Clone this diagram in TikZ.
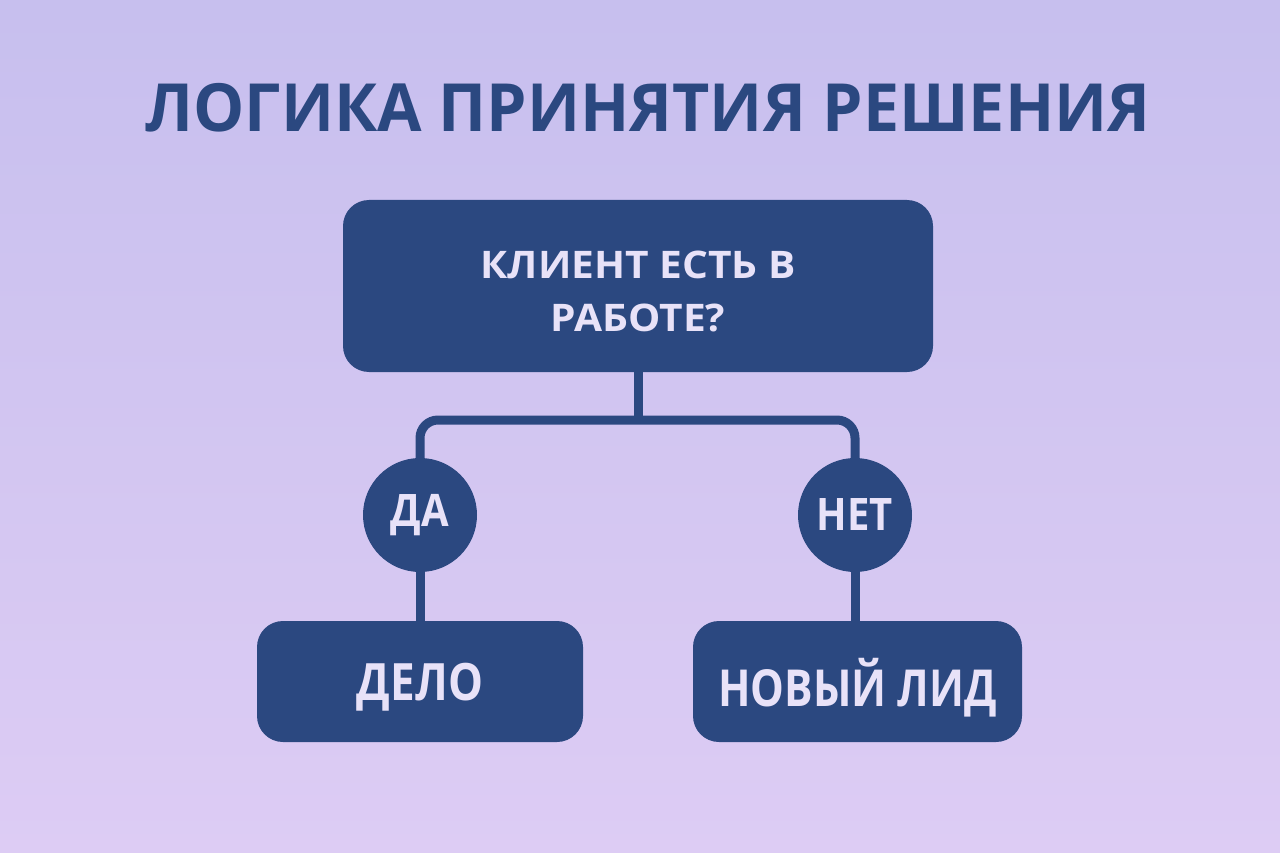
\documentclass[tikz,border=0pt]{standalone}
\usepackage{fontspec}
\setmainfont{Open Sans}
\usetikzlibrary{calc}
\definecolor{bgtop}{HTML}{C7BFEE}
\definecolor{bgbot}{HTML}{DDCCF4}
\definecolor{navy}{HTML}{2B4880}
\definecolor{lav}{HTML}{E8E2F8}
\tikzset{
  box/.style={fill=navy, rounded corners=26pt, text=lav, align=center, inner sep=0pt},
  circ/.style={circle, fill=navy, text=lav, minimum size=114pt, inner sep=0pt, font=\bfseries\fontsize{40}{40}\selectfont},
  conn/.style={draw=navy, line width=9pt},
}
\begin{document}
\begin{tikzpicture}[x=1pt,y=-1pt]
\useasboundingbox (0,0) rectangle (1280,853);
\fill[top color=bgtop, bottom color=bgbot] (0,0) rectangle (1280,853);
\node[text=navy, font=\bfseries\fontsize{64.5}{64}\selectfont] (title) at (648,108) {\scalebox{1}[1.03]{ЛОГИКА ПРИНЯТИЯ РЕШЕНИЯ}};
\node[box, minimum width=590pt, minimum height=172pt, font=\bfseries\fontsize{38}{53}\selectfont] (q) at (638,286) {\raisebox{-8pt}[\height][\depth]{\scalebox{1.07}[1]{\begin{tabular}{@{}c@{}}КЛИЕНТ ЕСТЬ В\\РАБОТЕ?\end{tabular}}}};
\node[circ] (yes) at (420,515) {\scalebox{1}[1.12]{ДА}};
\node[circ] (no) at (855,515) {\scalebox{1}[1.12]{НЕТ}};
\node[box, minimum width=326pt, minimum height=121pt, font=\bfseries\fontsize{44}{50}\selectfont] (delo) at (420,681.5) {\raisebox{-6pt}[\height][\depth]{\scalebox{1}[1.17]{ДЕЛО}}};
\node[box, minimum width=329pt, minimum height=121pt, font=\bfseries\fontsize{42.5}{50}\selectfont] (lead) at (857.5,681.5) {\raisebox{-6pt}[\height][\depth]{\scalebox{1}[1.2]{НОВЫЙ ЛИД}}};
\coordinate (j) at (638,420);
\draw[conn] (q.south) -- (j);
\draw[conn, rounded corners=18pt] (yes.north) |- (j) -| (no.north);
\draw[conn] (yes.south) -- (yes.south |- delo.north);
\draw[conn] (no.south) -- (no.south |- lead.north);
\end{tikzpicture}
\end{document}
